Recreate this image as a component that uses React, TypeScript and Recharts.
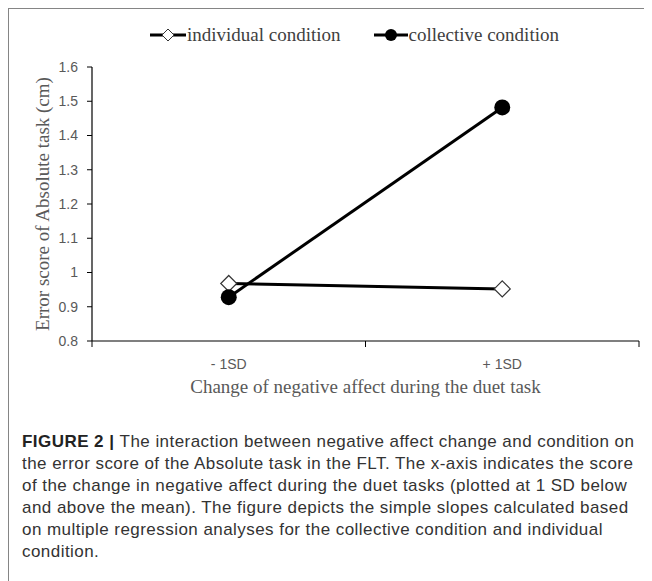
import { LineChart, Line, XAxis, YAxis, Label } from "recharts";

// values
const categories = ["- 1SD", "+ 1SD"];
const individualValues = [0.968, 0.952];
const collectiveValues = [0.928, 1.482];
const yTicks = [0.8, 0.9, 1, 1.1, 1.2, 1.3, 1.4, 1.5, 1.6];
const seriesNames = ["individual condition", "collective condition"];
const xTitle = "Change of negative affect during the duet task";
const yTitle = "Error score of Absolute task (cm)";
const captionLines = [
  "The interaction between negative affect change and condition on",
  "the error score of the Absolute task in the FLT. The x-axis indicates the score",
  "of the change in negative affect during the duet tasks (plotted at 1 SD below",
  "and above the mean). The figure depicts the simple slopes calculated based",
  "on multiple regression analyses for the collective condition and individual",
  "condition.",
];

const data = categories.map((c, i) => ({
  category: c,
  individual: individualValues[i],
  collective: collectiveValues[i],
}));

const serif = "'Liberation Serif', 'DejaVu Serif', serif";
const sans = "'Liberation Sans', Arial, sans-serif";

const Diamond = (props: any) => {
  const { cx, cy } = props;
  if (cx == null || cy == null) return null;
  const r = 8;
  return (
    <path
      d={`M${cx},${cy - r} L${cx + r},${cy} L${cx},${cy + r} L${cx - r},${cy} Z`}
      fill="#fff"
      stroke="#333"
      strokeWidth={1.2}
    />
  );
};

const Dot = (props: any) => {
  const { cx, cy } = props;
  if (cx == null || cy == null) return null;
  return <circle cx={cx} cy={cy} r={8} fill="#000" />;
};

// tick marks sit between categories like in Excel
const XTick = (props: any) => {
  const { x, y, payload, visibleTicksCount } = props;
  const half = payload.offset || 0;
  const last = payload.index === visibleTicksCount - 1;
  return (
    <g>
      <line x1={x - half} x2={x - half} y1={y} y2={y + 6} stroke="#000" strokeWidth={1} />
      {last && <line x1={x + half} x2={x + half} y1={y} y2={y + 6} stroke="#000" strokeWidth={1} />}
      <text x={x} y={y + 28} textAnchor="middle" fontFamily={sans} fontSize={14} fill="#595959">
        {payload.value}
      </text>
    </g>
  );
};

const LegendItem = ({ name, filled, width }: { name: string; filled: boolean; width: number }) => (
  <div style={{ display: "flex", alignItems: "center" }}>
    <svg width={width} height={20}>
      <line x1={0} x2={width} y1={10} y2={10} stroke="#000" strokeWidth={3} />
      {filled ? (
        <circle cx={width / 2} cy={10} r={6} fill="#000" />
      ) : (
        <path
          d={`M${width / 2},4 L${width / 2 + 6},10 L${width / 2},16 L${width / 2 - 6},10 Z`}
          fill="#fff"
          stroke="#333"
          strokeWidth={1}
        />
      )}
    </svg>
    <span style={{ fontFamily: serif, fontSize: 19, color: "#404040", marginLeft: 1 }}>{name}</span>
  </div>
);

export default function App() {
  return (
    <div
      style={{
        position: "relative",
        width: 645,
        height: 574,
        marginLeft: -1,
        marginTop: -1,
        borderLeft: "2px solid #858585",
        borderTop: "2px solid #858585",
        background: "#fff",
      }}
    >
      <div style={{ position: "absolute", left: 0, top: 0 }}>
        <LineChart width={643} height={400} data={data} margin={{ top: 58, right: 13, bottom: 38, left: 0 }}>
          <XAxis
            dataKey="category"
            scale="band"
            height={30}
            tickSize={0}
            tickMargin={0}
            tick={<XTick />}
            axisLine={{ stroke: "#000", strokeWidth: 1.2 }}
          >
            <Label
              content={(p: any) => (
                <text
                  x={p.viewBox.x + p.viewBox.width / 2}
                  y={p.viewBox.y + 52}
                  textAnchor="middle"
                  fontFamily={serif}
                  fontSize={19}
                  fill="#595959"
                >
                  {xTitle}
                </text>
              )}
            />
          </XAxis>
          <YAxis
            width={83}
            domain={[0.8, 1.6]}
            ticks={yTicks}
            tickSize={5}
            tickMargin={9}
            tickFormatter={(v: number) => String(v)}
            tick={{ fontFamily: sans, fontSize: 14, fill: "#595959" }}
            tickLine={{ stroke: "#000" }}
            axisLine={{ stroke: "#000", strokeWidth: 1.2 }}
          >
            <Label
              content={(p: any) => {
                const cx = p.viewBox.x + 33;
                const cy = p.viewBox.y + p.viewBox.height / 2;
                return (
                  <text
                    x={cx}
                    y={cy}
                    transform={`rotate(-90 ${cx} ${cy})`}
                    textAnchor="middle"
                    dominantBaseline="central"
                    fontFamily={serif}
                    fontSize={19}
                    fill="#595959"
                  >
                    {yTitle}
                  </text>
                );
              }}
            />
          </YAxis>
          <Line
            dataKey="individual"
            name={seriesNames[0]}
            stroke="#000"
            strokeWidth={3}
            dot={<Diamond />}
            isAnimationActive={false}
          />
          <Line
            dataKey="collective"
            name={seriesNames[1]}
            stroke="#000"
            strokeWidth={3}
            dot={<Dot />}
            isAnimationActive={false}
          />
        </LineChart>
      </div>

      <div style={{ position: "absolute", left: 141, top: 15, display: "flex", alignItems: "center" }}>
        <LegendItem name={seriesNames[0]} filled={false} width={36} />
        <div style={{ width: 33 }} />
        <LegendItem name={seriesNames[1]} filled={true} width={34} />
      </div>

      <div
        style={{
          position: "absolute",
          left: 13,
          top: 422,
          fontFamily: sans,
          fontSize: 17,
          letterSpacing: 0.45,
          lineHeight: "22px",
          color: "#333",
          whiteSpace: "nowrap",
        }}
      >
        {captionLines.map((l, i) => (
          <div key={i}>
            {i === 0 && <b style={{ color: "#222" }}>FIGURE 2 | </b>}
            {l}
          </div>
        ))}
      </div>
    </div>
  );
}
